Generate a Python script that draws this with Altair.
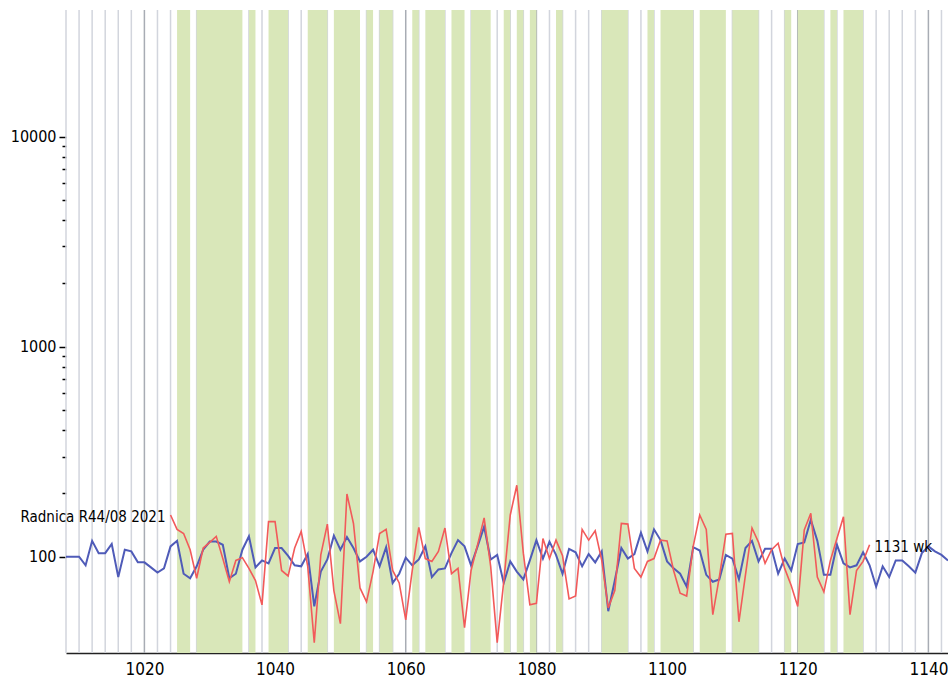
import altair as alt
import pandas as pd

# ---------------- data ----------------
blue_first_year = 1008
blue_values = [
    100, 100, 100, 91, 119, 104, 104, 115, 80, 108,      # 1008-1017
    106, 94, 94, 89, 84, 88, 112, 119, 83, 79,           # 1018-1027
    90, 108, 118, 118, 114, 79, 83, 108, 125, 89,        # 1028-1037
    96, 93, 110, 110, 101, 91, 90, 103, 58, 85,          # 1038-1047
    97, 126, 108, 124, 110, 95, 100, 108, 90, 111,       # 1048-1057
    75, 83, 99, 91, 97, 112, 80, 87, 88, 104,            # 1058-1067
    120, 112, 91, 112, 139, 97, 102, 75, 95, 85,         # 1068-1077
    78, 96, 120, 98, 118, 102, 83, 109, 105, 90,         # 1078-1087
    103, 94, 106, 55, 77, 110, 98, 103, 130, 106,        # 1088-1097
    135, 120, 95, 88, 83, 72, 111, 107, 82, 76,          # 1098-1107
    78, 102, 98, 78, 110, 119, 95, 109, 109, 83,         # 1108-1117
    98, 86, 115, 117, 150, 119, 82, 82, 114, 93,         # 1118-1127
    89, 91, 105, 91, 72, 90, 80, 96, 96, 90,             # 1128-1137
    84, 104, 112, 106, 102, 96,                          # 1138-1143
]

red_first_year = 1024
red_values = [
    158, 135, 129, 108, 79, 110, 117, 125, 98, 76,       # 1024-1033
    96, 99, 88, 77, 59, 147, 147, 86, 81, 110,           # 1034-1043
    132, 90, 39, 102, 143, 69, 48, 199, 144, 71,         # 1044-1053
    61, 85, 129, 135, 86, 75, 50, 86, 138, 98,           # 1054-1063
    95, 106, 137, 83, 88, 46, 86, 114, 153, 90,          # 1064-1073
    39, 76, 158, 219, 104, 59, 60, 122, 98, 120,         # 1074-1083
    101, 63, 65, 135, 120, 133, 96, 57, 69, 144,         # 1084-1093
    143, 88, 80, 95, 98, 120, 119, 86, 67, 65,           # 1094-1103
    112, 158, 135, 53, 80, 128, 129, 49, 82, 137,        # 1104-1113
    117, 93, 108, 116, 88, 73, 58, 134, 161, 80,         # 1114-1123
    68, 96, 122, 155, 53, 86, 95, 114,                   # 1124-1131
]

# intervals where both curves run in the same direction (green)
band_start = [1025, 1028, 1036, 1039, 1045, 1049, 1054, 1056, 1061, 1063,
              1067, 1070, 1075, 1077, 1079, 1083, 1090, 1097, 1099, 1105,
              1110, 1118, 1120, 1125, 1127]
band_end = [1027, 1035, 1037, 1042, 1048, 1053, 1055, 1058, 1062, 1066,
            1069, 1073, 1076, 1078, 1080, 1084, 1094, 1098, 1104, 1109,
            1114, 1119, 1124, 1126, 1130]

grid_years = list(range(1008, 1143, 2))
x_tick_labels = [1020, 1040, 1060, 1080, 1100, 1120, 1140]
y_major = [100, 1000, 10000]
y_ticks = [100, 200, 300, 400, 500, 600, 700, 800, 900,
           1000, 2000, 3000, 4000, 5000, 6000, 7000, 8000, 9000, 10000]

label_left = "Radnica R44/08 2021"
label_left_year, label_left_value = 1024, 155
label_right = "1131 wk"
label_right_year, label_right_value = 1131, 111

# ---------------- tables ----------------
blue_df = pd.DataFrame({
    "year": list(range(blue_first_year, blue_first_year + len(blue_values))),
    "value": blue_values,
})
red_df = pd.DataFrame({
    "year": list(range(red_first_year, red_first_year + len(red_values))),
    "value": red_values,
})
band_df = pd.DataFrame({"start": band_start, "end": band_end})
grid_df = pd.DataFrame({"year": grid_years,
                        "major": [y % 20 == 0 for y in grid_years]})
text_df_l = pd.DataFrame({"year": [label_left_year], "value": [label_left_value],
                          "t": [label_left]})
text_df_r = pd.DataFrame({"year": [label_right_year], "value": [label_right_value],
                          "t": [label_right]})

FONT = "'DejaVu Sans Condensed', 'DejaVu Sans', sans-serif"

x_scale = alt.Scale(domain=[1008, 1143], nice=False, zero=False)
y_scale = alt.Scale(type="log", domain=[34.8, 40100], nice=False)

major_test = "datum.value == 100 || datum.value == 1000 || datum.value == 10000"

x_axis = alt.Axis(values=x_tick_labels, format="d", grid=False, ticks=False,
                  domainColor="#222222", domainWidth=1.5, labelFontSize=17,
                  labelFont=FONT, labelColor="#000000", labelPadding=8,
                  title=None, labelOverlap=False)
y_axis = alt.Axis(values=y_ticks, format="d",
                  labelExpr=f"({major_test}) ? datum.label : ''",
                  tickSize={"condition": {"test": major_test, "value": 7}, "value": 4},
                  tickColor="#000000", tickWidth=1.5, domain=False, grid=False,
                  labelFontSize=16, labelFont=FONT, labelColor="#000000",
                  labelPadding=3, title=None, labelOverlap=False)

grid = alt.Chart(grid_df).mark_rule(strokeWidth=1.5).encode(
    x=alt.X("year:Q", scale=x_scale, axis=x_axis),
    color=alt.Color("major:N", scale=alt.Scale(domain=[False, True],
                                               range=["#d2d5dd", "#a8acb4"]),
                    legend=None),
)

bands = alt.Chart(band_df).mark_rect(color="#d9e7b9").encode(
    x=alt.X("start:Q", scale=x_scale),
    x2="end:Q",
)

blue_line = alt.Chart(blue_df).mark_line(color="#4f5bb8", strokeWidth=2,
                                         clip=True).encode(
    x=alt.X("year:Q", scale=x_scale),
    y=alt.Y("value:Q", scale=y_scale, axis=y_axis),
)

red_line = alt.Chart(red_df).mark_line(color="#f25a5a", strokeWidth=1.6,
                                       clip=True).encode(
    x=alt.X("year:Q", scale=x_scale),
    y=alt.Y("value:Q", scale=y_scale),
)

txt_l = alt.Chart(text_df_l).mark_text(align="right", baseline="middle", dx=-5,
                                       fontSize=15, font=FONT,
                                       color="#000000").encode(
    x=alt.X("year:Q", scale=x_scale),
    y=alt.Y("value:Q", scale=y_scale),
    text="t:N",
)
txt_r = alt.Chart(text_df_r).mark_text(align="left", baseline="middle", dx=5,
                                       fontSize=15, font=FONT,
                                       color="#000000").encode(
    x=alt.X("year:Q", scale=x_scale),
    y=alt.Y("value:Q", scale=y_scale),
    text="t:N",
)

chart = alt.layer(grid, bands, blue_line, red_line, txt_l, txt_r).resolve_scale(
    color="independent"
).properties(
    width=882, height=643,
    padding={"left": 66, "top": 10, "right": 0, "bottom": 26},
    autosize=alt.AutoSizeParams(type="none"),
    background="#ffffff",
).configure_view(stroke=None)

chart.save("out.html", embed_options={"renderer": "svg", "actions": False})
